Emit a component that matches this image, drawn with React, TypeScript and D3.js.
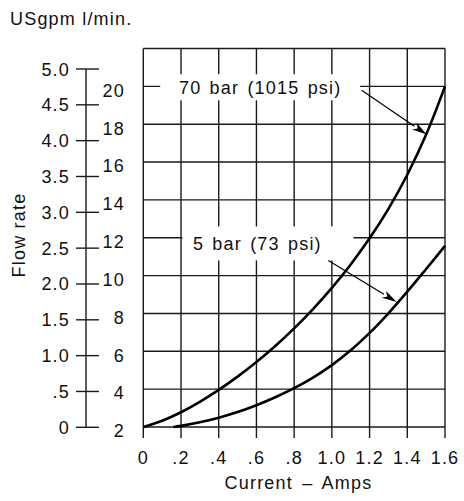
import React, { useEffect, useRef } from "react";
import * as d3 from "d3";

const currentTicks = [0, 0.2, 0.4, 0.6, 0.8, 1.0, 1.2, 1.4, 1.6];
const currentTickLabels = ["0", ".2", ".4", ".6", ".8", "1.0", "1.2", "1.4", "1.6"];
const lpmTicks = [2, 4, 6, 8, 10, 12, 14, 16, 18, 20];
const lpmGrid = [2, 4, 6, 8, 10, 12, 14, 16, 18, 20, 22];
const gpmTicks = [0, 0.5, 1.0, 1.5, 2.0, 2.5, 3.0, 3.5, 4.0, 4.5, 5.0];
const gpmTickLabels = ["0", ".5", "1.0", "1.5", "2.0", "2.5", "3.0", "3.5", "4.0", "4.5", "5.0"];

const current70 = [0, 0.1, 0.2, 0.3, 0.4, 0.5, 0.6, 0.7, 0.8, 0.9, 1.0, 1.1, 1.2, 1.3, 1.4, 1.5, 1.6];
const flow70 = [2.0, 2.33, 2.78, 3.33, 3.96, 4.66, 5.43, 6.28, 7.21, 8.23, 9.35, 10.59, 11.97, 13.53, 15.33, 17.45, 20.0];

const current5 = [0.16, 0.2, 0.3, 0.4, 0.5, 0.6, 0.7, 0.8, 0.9, 1.0, 1.1, 1.2, 1.3, 1.4, 1.5, 1.6];
const flow5 = [2.0, 2.06, 2.25, 2.49, 2.79, 3.15, 3.57, 4.05, 4.61, 5.27, 6.05, 6.97, 8.01, 9.15, 10.35, 11.57];

const labels = ["70 bar (1015 psi)", "5 bar (73 psi)"];
const labelCenterCurrent = [0.62, 0.605];
const labelCenterFlow = [19.95, 11.7];
const arrowFrom = [[1.158, 19.8], [0.981, 10.8]];
const arrowTo = [[1.503, 17.45], [1.344, 8.6]];

const FONT = "'Liberation Sans', Arial, Helvetica, sans-serif";

export default function App() {
  const ref = useRef<SVGSVGElement>(null);

  useEffect(() => {
    const svg = d3.select(ref.current);
    svg.selectAll("*").remove();

    const x = d3.scaleLinear().domain([0, 1.6]).range([143.3, 445]);
    const y = d3.scaleLinear().domain([2, 22]).range([427, 48.5]);
    const yg = d3.scaleLinear().domain([0, 5]).range([427.3, 69]);

    const gridColor = "#1a1a1a";
    const txt = (sel: any) =>
      sel.attr("font-family", FONT).attr("font-size", 18).attr("letter-spacing", 1.2).attr("fill", "#111");

    // title
    svg.append("text").attr("x", 10).attr("y", 25).text("USgpm l/min.").call(txt);

    // grid: horizontal
    svg.append("g").selectAll("line").data(lpmGrid).join("line")
      .attr("x1", x(0)).attr("x2", x(1.6))
      .attr("y1", (d) => y(d)).attr("y2", (d) => y(d))
      .attr("stroke", gridColor).attr("stroke-width", 1.4);
    // grid: vertical
    svg.append("g").selectAll("line").data(currentTicks).join("line")
      .attr("x1", (d) => x(d)).attr("x2", (d) => x(d))
      .attr("y1", y(22)).attr("y2", y(2) + 11)
      .attr("stroke", gridColor).attr("stroke-width", 1.4);

    // label backgrounds
    const rectW = [200, 171];
    const rectH = [26, 34];
    const rectDx = [-100, -75];
    const rectDy = [-13, -17];
    labels.forEach((_, i) => {
      const cx = x(labelCenterCurrent[i]);
      const cy = y(labelCenterFlow[i]);
      svg.append("rect")
        .attr("x", cx + rectDx[i]).attr("y", cy + rectDy[i])
        .attr("width", rectW[i]).attr("height", rectH[i])
        .attr("fill", "#fff");
    });

    // curves
    const line = d3.line<[number, number]>().x((d) => x(d[0])).y((d) => y(d[1])).curve(d3.curveCatmullRom.alpha(0.5));
    svg.append("path").datum(current70.map((c, i) => [c, flow70[i]] as [number, number]))
      .attr("d", line).attr("fill", "none").attr("stroke", "#000").attr("stroke-width", 2.6);
    svg.append("path").datum(current5.map((c, i) => [c, flow5[i]] as [number, number]))
      .attr("d", line).attr("fill", "none").attr("stroke", "#000").attr("stroke-width", 2.6);

    // labels
    labels.forEach((t, i) => {
      svg.append("text")
        .attr("x", x(labelCenterCurrent[i])).attr("y", y(labelCenterFlow[i]) + 6.5)
        .attr("text-anchor", "middle").attr("word-spacing", 2).text(t).call(txt);
    });

    // arrows
    labels.forEach((_, i) => {
      const x1 = x(arrowFrom[i][0]), y1 = y(arrowFrom[i][1]);
      const x2 = x(arrowTo[i][0]), y2 = y(arrowTo[i][1]);
      const ang = Math.atan2(y2 - y1, x2 - x1);
      const L = 15, W = 4;
      const bx = x2 - L * Math.cos(ang), by = y2 - L * Math.sin(ang);
      svg.append("line").attr("x1", x1).attr("y1", y1).attr("x2", bx).attr("y2", by)
        .attr("stroke", "#000").attr("stroke-width", 1.2);
      const px = -Math.sin(ang) * W, py = Math.cos(ang) * W;
      svg.append("path")
        .attr("d", `M${x2},${y2}L${bx + px},${by + py}L${bx + 4 * Math.cos(ang)},${by + 4 * Math.sin(ang)}L${bx - px},${by - py}Z`)
        .attr("fill", "#000");
    });

    // gpm axis
    svg.append("line").attr("x1", 86).attr("x2", 86).attr("y1", yg(5)).attr("y2", yg(0))
      .attr("stroke", gridColor).attr("stroke-width", 1.4);
    svg.append("g").selectAll("line").data(gpmTicks).join("line")
      .attr("x1", 76).attr("x2", 99).attr("y1", (d) => yg(d)).attr("y2", (d) => yg(d))
      .attr("stroke", gridColor).attr("stroke-width", 1.4);
    svg.append("g").selectAll("text").data(gpmTicks).join("text")
      .attr("x", 70).attr("y", (d) => yg(d) + 6.5).attr("text-anchor", "end")
      .text((d, i) => gpmTickLabels[i]).call(txt);

    // l/min labels
    svg.append("g").selectAll("text").data(lpmTicks).join("text")
      .attr("x", 125).attr("y", (d) => y(d) + 10.3).attr("text-anchor", "end")
      .text((d) => String(d)).call(txt);

    // x tick labels
    svg.append("g").selectAll("text").data(currentTicks).join("text")
      .attr("x", (d) => x(d)).attr("y", 464).attr("text-anchor", "middle")
      .text((d, i) => currentTickLabels[i]).call(txt);

    // axis titles
    svg.append("text").attr("x", 298.5).attr("y", 489).attr("text-anchor", "middle")
      .attr("word-spacing", 3).text("Current – Amps").call(txt);
    svg.append("text").attr("transform", "translate(25,235) rotate(-90)")
      .attr("text-anchor", "middle").text("Flow rate").call(txt);
  }, []);

  return (
    <svg ref={ref} width={464} height={501}
      style={{ position: "absolute", left: 0, top: 0, background: "#fff" }} />
  );
}
